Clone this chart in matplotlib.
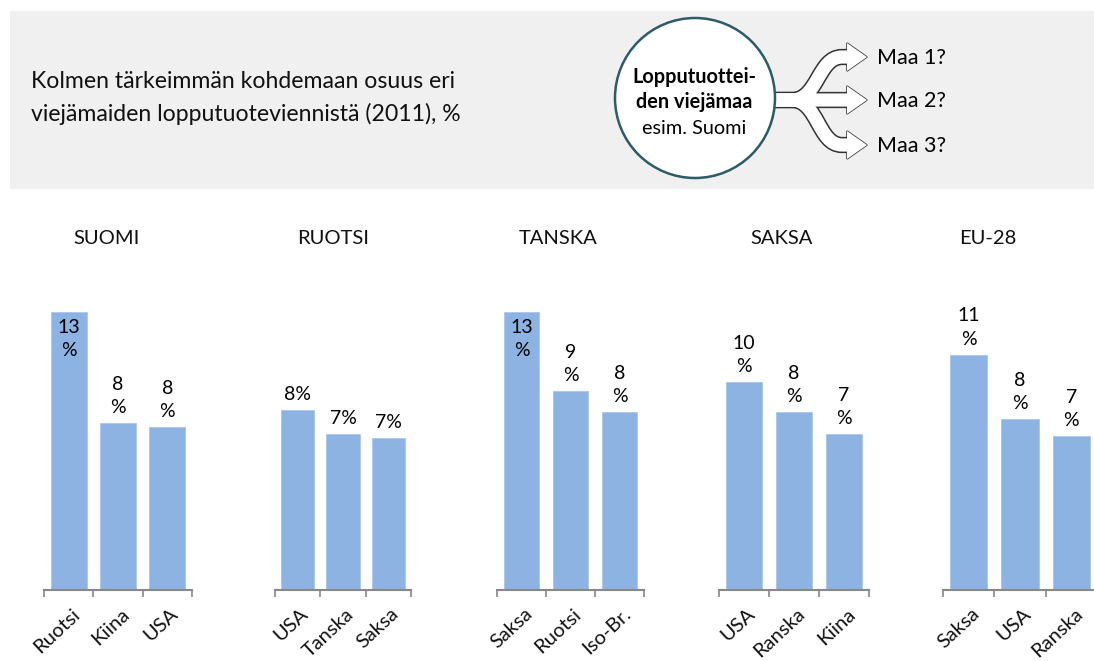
import numpy as np
import matplotlib.pyplot as plt
from matplotlib.patches import Rectangle, Circle, Polygon, PathPatch
from matplotlib.path import Path

plt.rcParams['font.family'] = ['Lato', 'DejaVu Sans']

# data: share of the three main destinations in final-product exports (2011), %
panels = ['SUOMI', 'RUOTSI', 'TANSKA', 'SAKSA', 'EU-28']
suomi_maat = ['Ruotsi', 'Kiina', 'USA']
suomi_osuus = [13.0, 7.8, 7.6]
ruotsi_maat = ['USA', 'Tanska', 'Saksa']
ruotsi_osuus = [8.4, 7.3, 7.1]
tanska_maat = ['Saksa', 'Ruotsi', 'Iso-Br.']
tanska_osuus = [13.0, 9.3, 8.3]
saksa_maat = ['USA', 'Ranska', 'Kiina']
saksa_osuus = [9.7, 8.3, 7.3]
eu28_maat = ['Saksa', 'USA', 'Ranska']
eu28_osuus = [11.0, 8.0, 7.2]

maat = [suomi_maat, ruotsi_maat, tanska_maat, saksa_maat, eu28_maat]
osuudet = [suomi_osuus, ruotsi_osuus, tanska_osuus, saksa_osuus, eu28_osuus]

W, H = 1094, 661
fig = plt.figure(figsize=(W / 100, H / 100), dpi=100)
fig.patch.set_facecolor('white')

# overlay axes in pixel coordinates for the header graphics
bg = fig.add_axes([0, 0, 1, 1])
bg.set_xlim(0, W)
bg.set_ylim(H, 0)
bg.axis('off')

bg.add_patch(Rectangle((10, 11), W - 10, 178, facecolor='#f0f0f0', edgecolor='none'))
bg.text(31, 81, 'Kolmen tärkeimmän kohdemaan osuus eri', fontsize=16.6,
        va='center', ha='left', color='#111111')
bg.text(31, 114, 'viejämaiden lopputuoteviennistä (2011), %', fontsize=16.6,
        va='center', ha='left', color='#111111')

# circle
bg.add_patch(Circle((695, 98), 80, facecolor='white', edgecolor='#2d5b68', lw=1.8, zorder=3))
bg.text(694, 77, 'Lopputuottei-', fontsize=14.3, fontweight='bold', ha='center', va='center', zorder=4)
bg.text(694, 102, 'den viejämaa', fontsize=14.3, fontweight='bold', ha='center', va='center', zorder=4)
bg.text(694, 128, 'esim. Suomi', fontsize=14.3, ha='center', va='center', zorder=4)

# branching arrow
outline = '#333333'
shaft = 9.5
tips = [57, 100, 145]
for pas in (0, 1):
    for ty in tips:
        verts = [(770, 100), (792, 100), (818, 100), (818, ty), (842, ty), (851, ty)]
        codes = [Path.MOVETO, Path.LINETO, Path.CURVE4, Path.CURVE4, Path.CURVE4, Path.LINETO]
        p = Path(verts, codes)
        head = [(847, ty - 14), (867, ty), (847, ty + 14)]
        if pas == 0:
            bg.add_patch(PathPatch(p, facecolor='none', edgecolor=outline,
                                   lw=shaft + 2.2, capstyle='butt', zorder=1))
            bg.add_patch(Polygon(head, closed=True, facecolor='white',
                                 edgecolor=outline, lw=1.1, joinstyle='miter', zorder=1))
        else:
            bg.add_patch(PathPatch(p, facecolor='none', edgecolor='white',
                                   lw=shaft, capstyle='butt', zorder=2))
            bg.add_patch(Polygon(head, closed=True, facecolor='white',
                                 edgecolor='none', zorder=2))
for ty, txt in zip(tips, ['Maa 1?', 'Maa 2?', 'Maa 3?']):
    bg.text(877, ty + 1, txt, fontsize=15.5, ha='left', va='center')

# chart panels: (left px, right px, title center px)
paikat = [(44, 192, 107), (275, 411, 333), (497, 644, 558), (719, 869, 782), (943, 1097, 988)]
pohja = 590
ylaraja = 14.5
ax_h = ylaraja * 21.4
blue = '#8db3e2'

for nimi, m, v, (x0, x1, tx) in zip(panels, maat, osuudet, paikat):
    ax = fig.add_axes([x0 / W, 1 - pohja / H, (x1 - x0) / W, ax_h / H])
    ax.set_facecolor('none')
    x = np.arange(len(v))
    ax.bar(x, v, width=0.73, color=blue, edgecolor='#a9c6ea', lw=0.6)
    ax.set_xlim(-0.5, len(v) - 0.5)
    ax.set_ylim(0, ylaraja)
    for s in ['top', 'right', 'left']:
        ax.spines[s].set_visible(False)
    ax.spines['bottom'].set_color('#888888')
    ax.spines['bottom'].set_linewidth(1.5)
    ax.set_yticks([])
    ax.set_xticks(np.arange(len(v) + 1) - 0.5)
    ax.set_xticklabels([])
    ax.tick_params(axis='x', length=5, width=1.2, color='#888888', direction='out')
    for i, (lab, val) in enumerate(zip(m, v)):
        ax.annotate(lab, xy=(i + 0.05, 0), xycoords='data', xytext=(0, -11),
                    textcoords='offset points', rotation=43, ha='right', va='top',
                    rotation_mode='anchor', fontsize=14.5, color='#111111')
        if nimi == 'RUOTSI':
            ax.annotate(f'{val:.0f}%', xy=(i, val), xytext=(0, 5), textcoords='offset points',
                        ha='center', va='bottom', fontsize=14)
        elif val >= 12.5:
            ax.annotate(f'{val:.0f}\n%', xy=(i, val), xytext=(0, -5), textcoords='offset points',
                        ha='center', va='top', fontsize=14, linespacing=1.45)
        else:
            ax.annotate(f'{val:.0f}\n%', xy=(i, val), xytext=(0, 5), textcoords='offset points',
                        ha='center', va='bottom', fontsize=14, linespacing=1.45)
    bg.text(tx, 238, nimi, fontsize=14.5, ha='center', va='center', color='#111111')

fig.savefig('out.png', dpi=100)
